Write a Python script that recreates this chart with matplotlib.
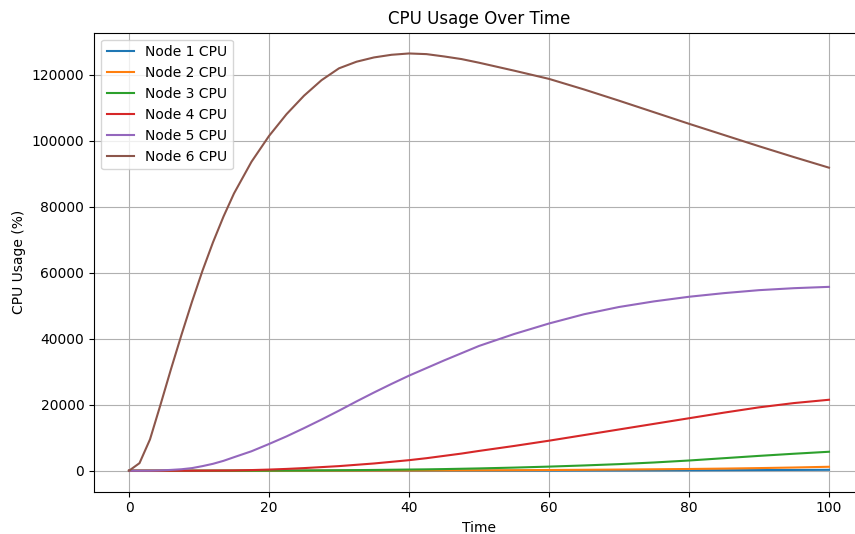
import numpy as np
import matplotlib
matplotlib.use("Agg")
import matplotlib.pyplot as plt

# 时间采样点（前段较密，曲线变化快）
time = [0, 1.5, 3, 4.5, 6, 7.5, 9, 10.5, 12, 13.5, 15, 17.5, 20, 22.5, 25, 27.5,
        30, 32.5, 35, 37.5, 40, 42.5, 45, 47.5, 50, 55, 60, 65, 70, 75, 80, 85, 90, 95, 100]

node1_cpu = [0, 0, 0, 0, 0, 0, 0, 0, 0, 0, 0, 0, 0, 0, 1, 2,
             3, 4, 6, 8, 10, 12, 15, 18, 22, 30, 40, 55, 75, 100, 130, 160, 200, 240, 280]
node2_cpu = [0, 0, 0, 0, 0, 0, 0, 0, 0, 1, 2, 4, 7, 11, 16, 22,
             30, 38, 47, 55, 65, 77, 90, 105, 120, 165, 220, 285, 360, 440, 530, 650, 800, 980, 1200]
node3_cpu = [0, 0, 0, 0, 0, 0, 0, 1, 3, 6, 10, 20, 40, 60, 80, 110,
             150, 190, 240, 300, 360, 420, 500, 600, 700, 950, 1250, 1600, 2000, 2500, 3100, 3800, 4500, 5150, 5750]
node4_cpu = [0, 0, 0, 0, 0, 5, 10, 20, 40, 60, 90, 200, 350, 550, 800, 1100,
             1400, 1800, 2200, 2700, 3200, 3800, 4500, 5200, 6000, 7500, 9100, 10800, 12500, 14200, 15900, 17600, 19200, 20500, 21500]
node5_cpu = [0, 0, 20, 100, 250, 450, 800, 1400, 2100, 3000, 4100, 5900, 8100, 10400, 12900, 15500,
             18200, 21000, 23700, 26300, 28800, 31100, 33400, 35600, 37800, 41400, 44600, 47400, 49600, 51300, 52700, 53800, 54700, 55300, 55700]
node6_cpu = [0, 2300, 9500, 20000, 30800, 41200, 51200, 60600, 69200, 77000, 84000, 93600, 101400, 108000, 113600, 118300,
             121900, 123900, 125200, 126000, 126400, 126200, 125500, 124700, 123600, 121200, 118700, 115500, 112100, 108600, 105100, 101700, 98300, 95000, 91800]

labels = ["Node 1 CPU", "Node 2 CPU", "Node 3 CPU", "Node 4 CPU", "Node 5 CPU", "Node 6 CPU"]
series = [node1_cpu, node2_cpu, node3_cpu, node4_cpu, node5_cpu, node6_cpu]

fig = plt.figure(figsize=(8.55, 5.34), dpi=100)
# 原图右侧被裁切，坐标轴右边界超出画布
ax = fig.add_axes([94 / 855, 42.4 / 534, 770 / 855, 459 / 534])

for vals, lab in zip(series, labels):
    ax.plot(time, vals, label=lab)

ax.set_title("CPU Usage Over Time")
ax.set_xlabel("Time")
ax.set_ylabel("CPU Usage (%)")
ax.grid(True)
ax.legend(loc="upper left")

fig.savefig("out.png", dpi=100)
